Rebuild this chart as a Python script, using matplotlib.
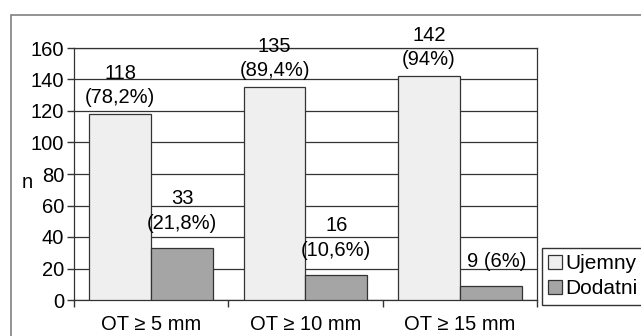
import matplotlib.pyplot as plt
from matplotlib.patches import Rectangle
import numpy as np

plt.rcParams['font.family'] = ['Liberation Sans', 'DejaVu Sans']

# counts per threshold group
categories = ['OT ≥ 5 mm', 'OT ≥ 10 mm', 'OT ≥ 15 mm']
ujemny = [118, 135, 142]
dodatni = [33, 16, 9]
ujemny_pct = ['78,2%', '89,4%', '94%']
dodatni_pct = ['21,8%', '10,6%', '6%']
series_names = ['Ujemny', 'Dodatni']
yticks = [0, 20, 40, 60, 80, 100, 120, 140, 160]

fs = 14.5

fig = plt.figure(figsize=(6.41, 3.36), dpi=100)

# outer chart frame
fig.patches.append(Rectangle((11 / 641, -0.2), 1.5, 1 - 15 / 336 + 0.2,
                             transform=fig.transFigure, fill=False,
                             edgecolor='#808080', lw=1.2))

ax = fig.add_axes([74 / 641, 1 - 300 / 336, 463 / 641, 252 / 336])

x = np.arange(len(categories))
w = 0.4
b1 = ax.bar(x - w / 2, ujemny, w, color='#efefef', edgecolor='#333333', lw=0.9,
            label=series_names[0], zorder=3)
b2 = ax.bar(x + w / 2, dodatni, w, color='#a5a5a5', edgecolor='#333333', lw=0.9,
            label=series_names[1], zorder=3)

# value labels above bars
for i in range(len(categories)):
    ax.annotate(f'{ujemny[i]}\n({ujemny_pct[i]})', (x[i] - w / 2, ujemny[i]),
                xytext=(0, 5), textcoords='offset points', ha='center', va='bottom',
                fontsize=fs, linespacing=1.35)
    if i == 2:
        txt = f'{dodatni[i]} ({dodatni_pct[i]})'
        dx = 4
    else:
        txt = f'{dodatni[i]}\n({dodatni_pct[i]})'
        dx = 0
    ax.annotate(txt, (x[i] + w / 2, dodatni[i]),
                xytext=(dx, 11), textcoords='offset points', ha='center', va='bottom',
                fontsize=fs, linespacing=1.35)

ax.set_xlim(-0.5, len(categories) - 0.5)
ax.set_ylim(0, 160)
ax.set_yticks(yticks)
ax.tick_params(axis='y', labelsize=fs, length=5, width=1, color='#333333', pad=2)
ax.yaxis.grid(True, color='#333333', lw=0.9)
ax.set_axisbelow(True)

# category labels in the middle, ticks on the boundaries
ax.set_xticks(np.arange(-0.5, len(categories), 1.0))
ax.set_xticklabels([])
ax.set_xticks(x, minor=True)
ax.set_xticklabels(categories, minor=True, fontsize=fs)
ax.tick_params(axis='x', which='major', length=5, width=1, color='#333333')
ax.tick_params(axis='x', which='minor', length=0, pad=11)

for s in ax.spines.values():
    s.set_color('#333333')
    s.set_linewidth(0.9)

ax.set_ylabel('n', rotation=0, fontsize=fs, va='center', ha='center')
ax.yaxis.set_label_coords(-0.102, 0.468)

fig.legend(handles=[b1, b2], labels=series_names, loc='upper left',
           bbox_to_anchor=(542 / 641, 1 - 248 / 336), fontsize=15,
           frameon=True, fancybox=False, edgecolor='#333333', framealpha=1,
           handlelength=0.65, handleheight=0.65, handletextpad=0.15,
           labelspacing=0.3, borderpad=0.3, borderaxespad=0)

fig.savefig('out.png', dpi=100)
